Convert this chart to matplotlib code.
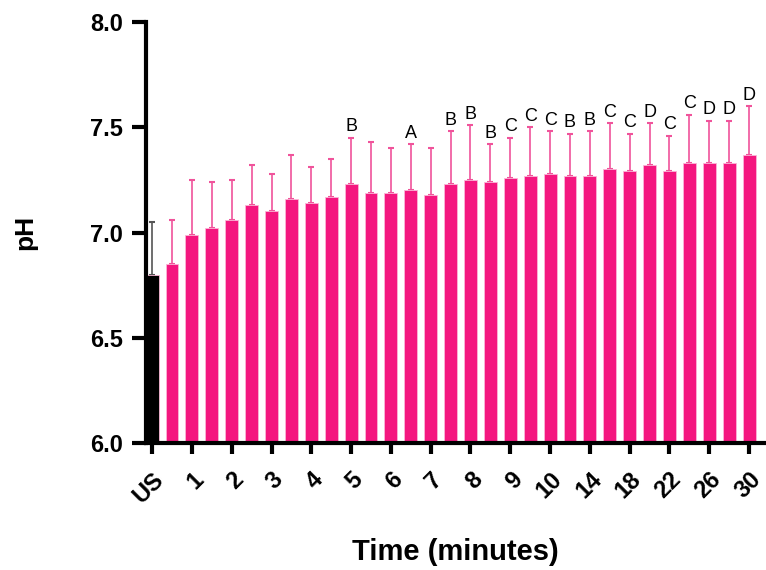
import numpy as np
import matplotlib.pyplot as plt

plt.rcParams['font.family'] = ['Liberation Sans', 'DejaVu Sans']

# bar heights (pH) - first one is US (baseline), then 30 timepoints
ph_mean = [6.80,
           6.85, 6.99, 7.02, 7.06, 7.13, 7.10, 7.16, 7.14, 7.17, 7.23,
           7.19, 7.19, 7.20, 7.18, 7.23, 7.25, 7.24, 7.26, 7.27, 7.28,
           7.27, 7.27, 7.30, 7.29, 7.32, 7.29, 7.33, 7.33, 7.33, 7.37]
# upper end of the error bars
ph_upper = [7.05,
            7.06, 7.25, 7.24, 7.25, 7.32, 7.28, 7.37, 7.31, 7.35, 7.45,
            7.43, 7.40, 7.42, 7.40, 7.48, 7.51, 7.42, 7.45, 7.50, 7.48,
            7.47, 7.48, 7.52, 7.47, 7.52, 7.46, 7.56, 7.53, 7.53, 7.60]
letters = ['', '', '', '', '', '', '', '', '', '', 'B',
           '', '', 'A', '', 'B', 'B', 'B', 'C', 'C', 'C',
           'B', 'B', 'C', 'C', 'D', 'C', 'C', 'D', 'D', 'D']
tick_labels = ['US', '1', '2', '3', '4', '5', '6', '7', '8', '9', '10',
               '14', '18', '22', '26', '30']

pink = '#F4177F'
x = np.arange(len(ph_mean))
mean = np.array(ph_mean)
err = np.array(ph_upper) - mean
colors = ['black'] + [pink] * (len(ph_mean) - 1)

fig = plt.figure(figsize=(7.66, 5.70), dpi=100)
ax = fig.add_axes([0.19, 0.2228, 0.81, 0.7386])

ax.bar(x, mean - 6.0, bottom=6.0, width=0.65, color=colors,
       edgecolor='#fbb6d6', linewidth=0.6, zorder=2)
ax.errorbar(x[:1], mean[:1], yerr=[[0], err[:1]], fmt='none',
            ecolor='#555555', elinewidth=1.2, capsize=2.5, capthick=1.5, zorder=1)
ax.errorbar(x[1:], mean[1:], yerr=[np.zeros(len(x) - 1), err[1:]], fmt='none',
            ecolor='#f0539b', elinewidth=1.2, capsize=2.5, capthick=1.5, zorder=1)

for xi, top, lab in zip(x, ph_upper, letters):
    if lab:
        ax.text(xi, top + 0.012, lab, ha='center', va='bottom', fontsize=13)

ax.set_ylim(6.0, 8.0)
ax.set_xlim(-0.33, 30.85)
ax.set_yticks([6.0, 6.5, 7.0, 7.5, 8.0])
ax.set_yticklabels(['6.0', '6.5', '7.0', '7.5', '8.0'],
                   fontsize=17, fontweight='bold')
ax.set_xticks(x[::2])
ax.set_xticklabels(tick_labels, rotation=45, ha='right',
                   rotation_mode='anchor', fontsize=17, fontweight='bold')

for s in ['top', 'right']:
    ax.spines[s].set_visible(False)
for s in ['left', 'bottom']:
    ax.spines[s].set_linewidth(3)
ax.tick_params(axis='y', length=10, width=3, pad=6)
ax.tick_params(axis='x', length=8, width=3, pad=10)

ax.set_ylabel('pH', fontsize=19, fontweight='bold', labelpad=38)
ax.set_xlabel('Time (minutes)', fontsize=21, fontweight='bold', labelpad=22)

fig.savefig('out.png', dpi=100)
